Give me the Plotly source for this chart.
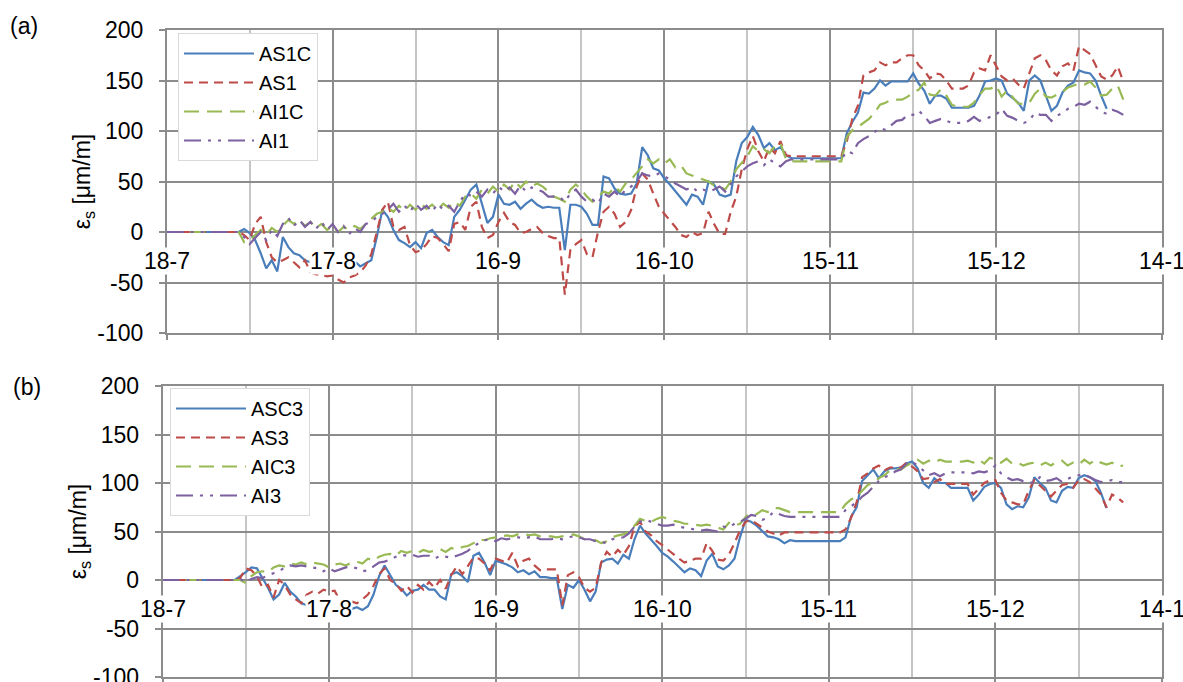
import plotly.graph_objects as go
import pandas as pd

# ---------------- data ----------------
start = pd.Timestamp("2015-07-18")
days = [0, 13] + list(range(14, 174))      # day offsets from 18-7
dates = [start + pd.Timedelta(days=d) for d in days]

tick_labels = ["18-7", "17-8", "16-9", "16-10", "15-11", "15-12", "14-1"]
tick_days = [0, 30, 60, 90, 120, 150, 180]
tick_dates = [start + pd.Timedelta(days=d) for d in tick_days]

y_tick_vals = [-100, -50, 0, 50, 100, 150, 200]
y_tick_text = ["-100", "-50", "0", "50", "100", "150", "200"]

N = None
# panel (a)
AS1C = [0, 0,
    3, -1, -8, -21, -36, -28, -39, -5, -15, -21,
    -23, -28, -30, -32, -29, -31, -30, -32, -29, -31,
    -29, -34, -31, -28, -5, 22, 15, 2, -8, -11,
    -15, -10, -16, -1, 2, -5, -10, -13, 15, 22,
    32, 42, 47, 28, 9, 15, 37, 28, 27, 30,
    23, 28, 32, 27, 24, 25, 24, 24, -18, 27,
    27, 25, 18, 7, 7, 55, 53, 43, 38, 37,
    38, 48, 84, 76, 63, 61, 53, 47, 40, 33,
    27, 37, 35, 27, 50, 47, 37, 35, 37, 70,
    88, 94, 104, 96, 83, 88, 81, 84, 76, 73,
    73, 73, 73, 73, 73, 73, 73, 73, 73, 98,
    109, 118, 138, 137, 142, 150, 145, 149, 149, 149,
    149, 157, 147, 140, 127, 135, 135, 132, 123, 123,
    123, 123, 125, 135, 149, 150, 152, 150, 137, 132,
    128, 120, 150, 155, 150, 135, 120, 125, 138, 145,
    148, 160, 158, 157, 150, 135, 122, N, N, N]
AS1 = [0, 0,
    -3, -8, 8, 15, -10, -25, -30, -28, -25, -30,
    -35, -28, -40, -42, -42, -44, -43, -47, -50, -45,
    -43, -40, -33, -22, 0, 22, 30, 5, 2, 5,
    -13, -20, -18, -12, -4, -6, -12, -19, 8, 10,
    2, 25, 30, 5, -6, -3, 10, 19, 10, 7,
    -1, 0, 3, 5, -1, -4, -6, -6, -62, -18,
    -12, -8, -22, -25, 0, 20, 25, 18, 5, 10,
    22, 45, 58, 52, 38, 25, 18, 12, 5, -3,
    -5, 0, -3, -1, 20, 8, -2, -2, 20, 35,
    62, 82, 95, 80, 70, 84, 78, 90, 76, 75,
    75, 75, 75, 75, 75, 75, 75, 75, 75, 90,
    112, 125, 155, 158, 160, 168, 165, 168, 168, 172,
    175, 175, 165, 160, 152, 157, 156, 150, 142, 142,
    142, 145, 158, 162, 160, 175, 165, 154, 150, 152,
    146, 142, 157, 172, 175, 170, 160, 155, 164, 167,
    160, 184, 180, 176, 165, 154, 151, 155, 164, 149]
AI1C = [0, 0,
    -10, -8, -3, 2, -3, 4, 0, 6, 12, 8,
    12, 6, 10, 4, 8, 2, 6, 0, 5, 2,
    6, 3, 8, 12, 18, 20, 24, 20, 26, 21,
    27, 22, 28, 23, 27, 22, 28, 24, 30, 26,
    35, 38, 33, 42, 38, 45, 40, 47, 42, 50,
    44, 50, 45, 48, 45, 40, 35, 33, 30, 42,
    47, 42, 35, 30, 35, 40, 38, 45, 40, 48,
    52, 58, 65, 72, 68, 72, 68, 72, 64, 66,
    58, 56, 54, 52, 50, 46, 45, 42, 50, 62,
    68, 75, 85, 80, 82, 78, 85, 88, 72, 70,
    70, 70, 70, 70, 70, 70, 70, 70, 70, 94,
    101, 104, 108, 112, 118, 126, 128, 131, 131, 131,
    134, 138, 141, 148, 136, 135, 141, 135, 126, 124,
    124, 124, 128, 136, 142, 142, 145, 134, 140, 133,
    127, 127, 128, 137, 142, 134, 133, 136, 139, 143,
    145, 147, 146, 149, 143, 135, 136, 142, 145, 131]
AI1 = [0, 0,
    -5, -12, -6, 0, -8, 2, -4, 8, 14, 6,
    12, 5, 10, 3, 10, 2, 8, 0, 6, -2,
    4, 0, 8, 10, 15, 18, 22, 28, 20, 26,
    20, 28, 22, 26, 20, 28, 22, 26, 20, 30,
    38, 36, 40, 35, 42, 38, 45, 40, 44, 38,
    46, 40, 44, 42, 40, 35, 35, 35, 30, 38,
    42, 35, 30, 32, 28, 38, 35, 40, 35, 42,
    45, 50, 58, 56, 55, 58, 55, 52, 48, 45,
    42, 45, 40, 42, 40, 42, 45, 40, 48, 55,
    60, 65, 68, 70, 66, 72, 68, 65, 70, 72,
    72, 72, 72, 72, 72, 72, 72, 72, 72, 80,
    78, 88, 92, 95, 99, 103, 101, 106, 110, 111,
    116, 116, 120, 115, 108, 110, 112, 110, 108, 108,
    108, 110, 114, 110, 112, 114, 116, 122, 115, 113,
    110, 108, 110, 118, 116, 116, 110, 115, 118, 122,
    124, 127, 126, 129, 124, 119, 117, 121, 119, 116]

# panel (b)
ASC3 = [0, 0,
    4, 8, 13, 12, 2, -8, -20, -15, -3, -12,
    -17, -24, -26, -28, -27, -30, -28, -27, -30, -32,
    -30, -28, -31, -27, -15, 4, 15, 5, -5, -9,
    -16, -11, -10, -5, -10, -10, -17, -20, 6, 8,
    4, -2, 25, 28, 18, 5, 20, 18, 16, 13,
    8, 10, 6, 9, 3, 3, 2, 2, -30, -5,
    -8, 0, -10, -22, -12, 18, 21, 22, 17, 26,
    22, 42, 56, 48, 42, 35, 28, 24, 19, 13,
    8, 12, 10, 4, 20, 27, 14, 11, 15, 22,
    44, 62, 60, 56, 50, 45, 44, 42, 38, 41,
    40, 40, 40, 40, 40, 40, 40, 40, 40, 44,
    65, 75, 102, 108, 114, 105, 112, 115, 115, 116,
    120, 122, 115, 100, 95, 105, 100, 100, 95, 95,
    95, 95, 82, 88, 96, 99, 100, 95, 78, 73,
    76, 75, 85, 106, 100, 95, 82, 80, 92, 96,
    95, 105, 108, 106, 102, 90, 74, N, N, N]
AS3 = [0, 0,
    2, 12, 10, 4, -8, -5, -18, 0, -5, -15,
    -20, -24, -15, -12, -14, -10, -12, -11, -22, -28,
    -22, -24, -20, -15, -6, 6, 12, 0, -4, -11,
    -6, -13, -5, -10, -2, -8, 0, -9, 5, 14,
    6, 14, 23, 22, 17, 10, 22, 20, 18, 28,
    14, 20, 22, 15, 10, 11, 11, 11, -26, 5,
    8, 3, -8, -12, -8, 18, 29, 24, 31, 26,
    35, 55, 60, 50, 46, 40, 36, 31, 27, 22,
    18, 20, 22, 22, 38, 30, 21, 20, 26, 38,
    51, 60, 62, 58, 54, 50, 48, 46, 49, 49,
    49, 49, 49, 49, 49, 49, 49, 49, 49, 52,
    64, 80, 106, 110, 115, 118, 113, 116, 116, 116,
    121, 117, 112, 104, 105, 101, 104, 99, 99, 99,
    99, 99, 88, 94, 100, 103, 103, 90, 82, 80,
    78, 78, 92, 103, 98, 92, 86, 92, 98, 99,
    95, 103, 104, 101, 95, 88, 75, 88, 85, 80]
AIC3 = [0, 0,
    0, -3, 4, 8, 9, 8, 13, 15, 14, 17,
    16, 18, 16, 18, 17, 16, 13, 16, 17, 15,
    18, 19, 17, 22, 20, 24, 26, 27, 25, 30,
    28, 30, 28, 31, 29, 30, 32, 29, 33, 31,
    34, 35, 38, 42, 41, 43, 44, 45, 46, 45,
    47, 48, 46, 47, 45, 45, 45, 44, 45, 46,
    47, 45, 42, 40, 41, 38, 40, 44, 46, 47,
    50, 56, 63, 61, 60, 63, 65, 63, 61, 60,
    58, 58, 57, 56, 57, 56, 54, 52, 59, 56,
    58, 65, 69, 68, 72, 70, 74, 74, 72, 70,
    70, 70, 70, 70, 70, 70, 70, 70, 70, 78,
    83, 86, 92, 98, 100, 105, 108, 113, 114, 114,
    118, 121, 124, 120, 123, 121, 124, 122, 122, 122,
    122, 123, 121, 124, 120, 126, 124, 121, 125, 120,
    121, 118, 120, 121, 118, 121, 118, 122, 123, 118,
    121, 119, 124, 120, 124, 121, 119, 121, 117, 118]
AI3 = [0, 0,
    1, -2, 1, 3, 2, 5, 7, 9, 13, 15,
    14, 15, 14, 13, 12, 9, 12, 9, 11, 13,
    14, 12, 9, 10, 14, 18, 19, 21, 24, 26,
    25, 26, 24, 25, 25, 22, 25, 24, 23, 25,
    27, 30, 35, 38, 41, 42, 40, 43, 42, 43,
    44, 43, 44, 45, 42, 42, 42, 43, 42, 44,
    45, 44, 42, 42, 40, 39, 38, 42, 43, 44,
    48, 55, 60, 62, 60, 58, 56, 56, 57, 55,
    54, 53, 52, 51, 52, 51, 50, 55, 54, 58,
    60, 63, 67, 66, 62, 64, 70, 68, 66, 65,
    65, 65, 65, 65, 65, 65, 65, 65, 65, 72,
    76, 80, 86, 90, 96, 102, 106, 108, 112, 114,
    120, 122, 118, 113, 108, 110, 107, 110, 111, 111,
    111, 111, 110, 112, 111, 113, 118, 110, 106, 103,
    104, 102, 101, 100, 106, 102, 103, 105, 101, 104,
    107, 108, 109, 106, 103, 101, 102, 103, 101, 101]

# ---------------- styling ----------------
W, H = 1183, 682
FONT = "Liberation Sans, Arial, sans-serif"
FS = 23
LFS = 20
GRID = "#8c8c8c"
MINOR = "#c6c6c6"
BLUE, RED, GREEN, PURPLE = "#4A7EBB", "#BE4B48", "#98B954", "#7D60A0"
styles = [
    dict(color=BLUE, width=2.2, dash="solid"),
    dict(color=RED, width=2.2, dash="9px,6px"),
    dict(color=GREEN, width=2.2, dash="15px,8px"),
    dict(color=PURPLE, width=2.2, dash="17px,7px,3px,7px,3px,7px"),
]

fig = go.Figure()
panels = [
    (["AS1C", "AS1", "AI1C", "AI1"], [AS1C, AS1, AI1C, AI1], "x", "y", "legend"),
    (["ASC3", "AS3", "AIC3", "AI3"], [ASC3, AS3, AIC3, AI3], "x2", "y2", "legend2"),
]
for names, series, xa, ya, lg in panels:
    for nm, vals, st in zip(names, series, styles):
        fig.add_trace(go.Scatter(x=dates, y=vals, name=nm, mode="lines",
                                 line=st, xaxis=xa, yaxis=ya, legend=lg,
                                 connectgaps=False))

day_ms = 86400000
xcommon = dict(type="date", range=[start, start + pd.Timedelta(days=180)],
               tick0=start, dtick=30 * day_ms, showticklabels=False,
               showgrid=True, gridcolor=GRID, gridwidth=1.5,
               minor=dict(tick0=start, dtick=15 * day_ms, showgrid=True,
                          gridcolor=MINOR, gridwidth=1.5),
               ticks="outside", ticklen=5, tickcolor=GRID, tickwidth=1.5,
               showline=True, mirror=True, linecolor=GRID, linewidth=1.5,
               zeroline=False, fixedrange=True, automargin=False)
ytitle = "ε<sub>s</sub> [μm/m]"
ycommon = dict(range=[-100, 200], tickmode="array", tickvals=y_tick_vals,
               ticktext=y_tick_text, ticklabeloverflow="allow",
               tickfont=dict(family=FONT, size=FS, color="black"),
               ticks="outside", ticklen=6, tickcolor=GRID, tickwidth=1.5,
               ticklabelstandoff=11,
               title=dict(text=ytitle, standoff=0,
                          font=dict(family=FONT, size=FS, color="black")),
               showgrid=True, gridcolor=GRID, gridwidth=1.5,
               showline=True, mirror=True, linecolor=GRID, linewidth=1.5,
               zeroline=False, fixedrange=True, automargin=False)

ya_dom = [1 - 333 / H, 1 - 30 / H]
yb_dom = [1 - 677 / H, 1 - 386 / H]
legend_common = dict(xanchor="left", yanchor="top", bgcolor="white",
                     bordercolor="#d9d9d9", borderwidth=1, itemwidth=70,
                     font=dict(family=FONT, size=LFS), tracegroupgap=0)
fig.update_layout(
    width=W, height=H,
    margin=dict(l=0, r=0, t=0, b=0, pad=0, autoexpand=False),
    paper_bgcolor="white", plot_bgcolor="white",
    font=dict(family=FONT, size=FS, color="black"),
    xaxis=dict(domain=[166.7 / W, 1162 / W], anchor="y", **xcommon),
    yaxis=dict(domain=ya_dom, anchor="x", **ycommon),
    xaxis2=dict(domain=[162.5 / W, 1162 / W], anchor="y2", **xcommon),
    yaxis2=dict(domain=yb_dom, anchor="x2", **ycommon),
    legend=dict(x=178 / W, y=1 - 33 / H, **legend_common),
    legend2=dict(x=170 / W, y=1 - 388 / H, **legend_common),
    showlegend=True,
)

ann = []
for xr, yr in (("x", "y"), ("x2", "y2")):
    for lab, td in zip(tick_labels, tick_dates):
        ann.append(dict(x=td, y=0, xref=xr, yref=yr, text=lab, showarrow=False,
                        yshift=-29, xanchor="center", yanchor="middle",
                        bgcolor="white", borderpad=0,
                        font=dict(family=FONT, size=FS, color="black")))
ann.append(dict(x=24 / W, y=1 - 26 / H, xref="paper", yref="paper", text="(a)",
                showarrow=False, xanchor="center", yanchor="middle",
                font=dict(family=FONT, size=FS, color="black")))
ann.append(dict(x=27 / W, y=1 - 387 / H, xref="paper", yref="paper", text="(b)",
                showarrow=False, xanchor="center", yanchor="middle",
                font=dict(family=FONT, size=FS, color="black")))
fig.update_layout(annotations=ann)

fig.write_html("out.html")
